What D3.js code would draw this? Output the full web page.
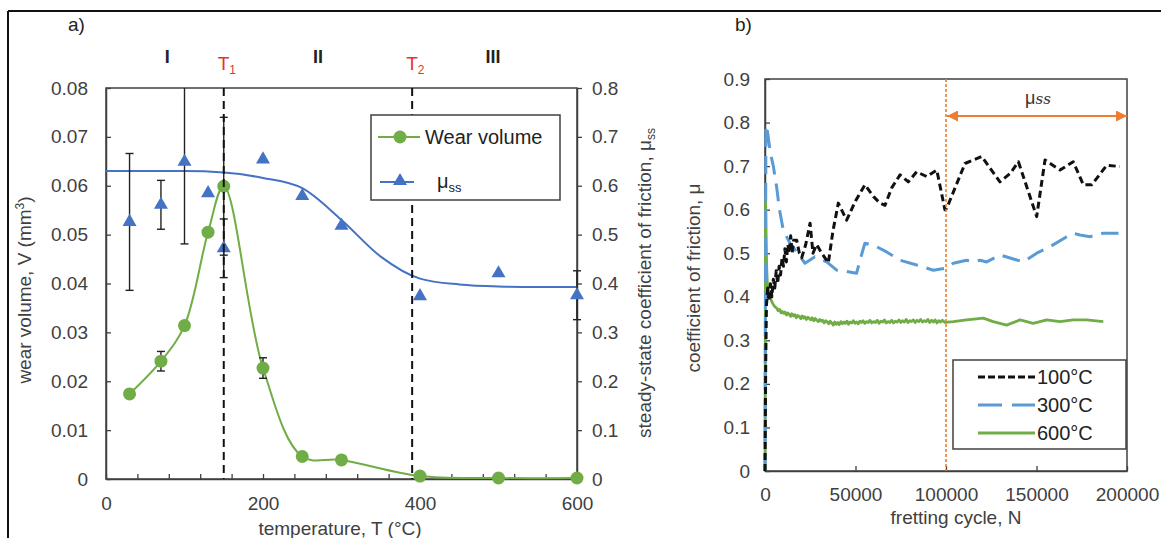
<!DOCTYPE html>
<html>
<head>
<meta charset="utf-8">
<script src="https://cdn.jsdelivr.net/npm/d3@7"></script>
<style>
  body { margin: 0; background: #fff; }
  svg { display: block; font-family: "Liberation Sans", Arial, sans-serif; }
</style>
</head>
<body>
<svg id="chart" width="1161" height="538"></svg>
<script>
// ---- panel a data ----
const tempC = [30, 70, 100, 130, 150, 200, 250, 300, 400, 500, 600];
const wearVolume = [0.0174, 0.0241, 0.0314, 0.0505, 0.0599, 0.0227, 0.0046, 0.0039, 0.0006, 0.0002, 0.0002];
const wearErr = [0.0009, 0.002, 0, 0, 0.0141, 0.0021, 0, 0, 0, 0, 0];
const muSS = [0.526, 0.561, 0.649, 0.585, 0.472, 0.654, 0.579, 0.518, 0.374, 0.421, 0.376];
const muErr = [0.14, 0.05, 0.168, 0, 0.06, 0, 0, 0, 0, 0, 0.05];
const fitT = [0, 50, 100, 150, 200, 250, 300, 350, 400, 450, 500, 550, 600];
const fitMu = [0.63, 0.63, 0.63, 0.627, 0.616, 0.595, 0.53, 0.455, 0.41, 0.398, 0.394, 0.393, 0.393];
const transitions = [150, 390];
const regions = [{ t: 78, label: 'I' }, { t: 270, label: 'II' }, { t: 493, label: 'III' }];

// ---- panel b data: [fretting cycle, coefficient of friction] ----
const cof100 = [[0, 0], [400, 0.25], [800, 0.38], [1500, 0.42], [2200, 0.39], [3000, 0.43], [3800, 0.4], [4600, 0.44],
  [5400, 0.42], [6200, 0.46], [7000, 0.43], [7800, 0.47], [8600, 0.45], [9400, 0.49], [10200, 0.47], [11000, 0.51],
  [11800, 0.48], [12600, 0.52], [13400, 0.5], [14200, 0.54], [15000, 0.5], [15800, 0.53], [17500, 0.53], [19000, 0.5],
  [20300, 0.49], [22500, 0.52], [24900, 0.569], [26500, 0.5], [28500, 0.52], [31300, 0.5], [35000, 0.478],
  [37500, 0.55], [40500, 0.615], [45100, 0.576], [50000, 0.62], [55200, 0.657], [60000, 0.63], [63500, 0.615],
  [66300, 0.61], [70000, 0.65], [74600, 0.68], [79200, 0.664], [83800, 0.687], [89300, 0.676], [94900, 0.691],
  [99400, 0.6], [100400, 0.603], [105000, 0.65], [110500, 0.706], [119700, 0.722], [129800, 0.664], [135400, 0.683],
  [140000, 0.71], [150100, 0.584], [154700, 0.714], [163000, 0.691], [170300, 0.71], [175900, 0.657], [180500, 0.657],
  [188800, 0.702], [196100, 0.699]];
const cof300 = [[0, 0], [500, 0.79], [900, 0.794], [2000, 0.76], [3000, 0.73], [4600, 0.7], [6400, 0.653], [8000, 0.6],
  [10100, 0.553], [13800, 0.523], [17500, 0.503], [22100, 0.477], [27600, 0.492], [34100, 0.48], [39600, 0.461],
  [45100, 0.458], [50600, 0.454], [52500, 0.484], [55200, 0.523], [59800, 0.519], [67200, 0.503], [74600, 0.484],
  [83800, 0.473], [93000, 0.461], [99400, 0.465], [104000, 0.477], [111400, 0.484], [115000, 0.48], [118800, 0.484],
  [122500, 0.48], [129800, 0.496], [136300, 0.488], [142700, 0.48], [150100, 0.5], [157500, 0.515], [166700, 0.538],
  [170300, 0.546], [174000, 0.542], [179600, 0.538], [186900, 0.546], [195300, 0.546]];
const cof600 = [[0, 0], [300, 0.63], [600, 0.55], [900, 0.47], [1300, 0.43], [2000, 0.41], [2800, 0.4], [3600, 0.39],
  [4500, 0.383], [5500, 0.377], [6500, 0.374], [7200, 0.368], [8100, 0.371], [8900, 0.363], [9600, 0.366],
  [10400, 0.362], [11000, 0.365], [11900, 0.358], [12600, 0.363], [13300, 0.36], [14200, 0.355], [14800, 0.361],
  [15700, 0.356], [16500, 0.359], [17300, 0.352], [18000, 0.357], [18900, 0.355], [19800, 0.35], [20500, 0.356],
  [21400, 0.351], [22000, 0.354], [22900, 0.348], [23700, 0.353], [24500, 0.35], [25300, 0.347], [26000, 0.352],
  [27000, 0.345], [27700, 0.35], [28500, 0.347], [29400, 0.343], [30200, 0.348], [31000, 0.344], [31800, 0.346],
  [32700, 0.34], [33500, 0.345], [34300, 0.343], [35200, 0.338], [36000, 0.344], [36800, 0.34], [37700, 0.335],
  [38500, 0.342], [39300, 0.337], [40200, 0.341], [41000, 0.336], [41900, 0.343], [42700, 0.338], [43600, 0.342],
  [44400, 0.339], [45300, 0.344], [46100, 0.337], [47000, 0.342], [48000, 0.34], [48800, 0.345], [49700, 0.339],
  [50600, 0.342], [51500, 0.338], [52400, 0.344], [53300, 0.341], [54200, 0.345], [55200, 0.339], [56100, 0.343],
  [57100, 0.341], [58000, 0.346], [59000, 0.34], [60000, 0.343], [61000, 0.341], [62000, 0.346], [63000, 0.339],
  [64000, 0.344], [65000, 0.342], [66000, 0.347], [67000, 0.34], [68000, 0.343], [69000, 0.341], [70000, 0.346],
  [71000, 0.34], [72000, 0.344], [73000, 0.342], [74000, 0.347], [75000, 0.341], [76000, 0.345], [77000, 0.342],
  [78000, 0.348], [79000, 0.341], [80000, 0.345], [81000, 0.343], [82000, 0.347], [83000, 0.341], [84000, 0.346],
  [85000, 0.343], [86000, 0.348], [87000, 0.342], [88000, 0.345], [89000, 0.343], [90000, 0.348], [91000, 0.341],
  [92000, 0.346], [93000, 0.342], [94000, 0.347], [95000, 0.34], [96000, 0.345], [97000, 0.342], [98000, 0.346],
  [99400, 0.341], [104000, 0.343], [111400, 0.347], [120600, 0.351], [126100, 0.343], [133500, 0.335],
  [140900, 0.347], [148200, 0.339], [155600, 0.347], [163000, 0.343], [170300, 0.347], [177700, 0.347], [186900, 0.343]];
const ssStart = 100000;

const svg = d3.select('#chart');
const ink = '#404040';
const green = '#70ad47', blue = '#4472c4', lightBlue = '#5b9bd5', orange = '#ed7d31', red = '#e8312f';

// outer frame
svg.append('line').attr('x1', 8).attr('y1', 11).attr('x2', 1161).attr('y2', 11).attr('stroke', '#111').attr('stroke-width', 2);
svg.append('line').attr('x1', 8).attr('y1', 11).attr('x2', 8).attr('y2', 538).attr('stroke', '#111').attr('stroke-width', 2);

/* ================= panel a ================= */
const A = { left: 106, right: 577, top: 88, bottom: 479 };
const x = d3.scaleLinear().domain([0, 600]).range([A.left, A.right]);
const yW = d3.scaleLinear().domain([0, 0.08]).range([A.bottom, A.top]);
const yM = d3.scaleLinear().domain([0, 0.8]).range([A.bottom, A.top]);

const ga = svg.append('g');
ga.append('rect').attr('x', A.left).attr('y', A.top).attr('width', A.right - A.left).attr('height', A.bottom - A.top)
  .attr('fill', 'none').attr('stroke', ink).attr('stroke-width', 1.5);

const axA = (g) => {
  g.select('.domain').attr('stroke', ink).attr('stroke-width', 1.5);
  g.selectAll('.tick line').attr('stroke', ink).attr('stroke-width', 1.3);
  g.selectAll('.tick text').attr('fill', ink).style('font-size', '19px');
};

ga.append('g').attr('transform', `translate(0,${A.bottom})`)
  .call(d3.axisBottom(x).tickValues(d3.range(0, 601, 40)).tickSizeInner(-5).tickSizeOuter(0).tickPadding(18)
    .tickFormat(d => d % 200 === 0 ? d : ''))
  .call(axA);
ga.append('g').attr('transform', `translate(${A.left},0)`)
  .call(d3.axisLeft(yW).ticks(8).tickSizeInner(-5).tickSizeOuter(0).tickPadding(18)
    .tickFormat(d => d === 0 ? '0' : d3.format('.2f')(d)))
  .call(axA);
ga.append('g').attr('transform', `translate(${A.right},0)`)
  .call(d3.axisRight(yM).ticks(8).tickSizeInner(5).tickSizeOuter(0).tickPadding(10)
    .tickFormat(d => d === 0 ? '0' : d3.format('.1f')(d)))
  .call(axA);

// fitted friction curve
ga.append('path').datum(fitT.map((t, i) => [t, fitMu[i]]))
  .attr('fill', 'none').attr('stroke', blue).attr('stroke-width', 2)
  .attr('d', d3.line().x(d => x(d[0])).y(d => yM(d[1])).curve(d3.curveMonotoneX));

// wear volume smooth line
ga.append('path').datum(tempC.map((t, i) => [t, wearVolume[i]]))
  .attr('fill', 'none').attr('stroke', green).attr('stroke-width', 2)
  .attr('d', d3.line().x(d => x(d[0])).y(d => yW(d[1])).curve(d3.curveCatmullRom.alpha(0.5)));

// error bars
const errBar = (cx, lo, hi, capLo, capHi) => {
  const e = ga.append('g').attr('stroke', '#222').attr('stroke-width', 1.4);
  e.append('line').attr('x1', cx).attr('x2', cx).attr('y1', lo).attr('y2', hi);
  if (capLo) e.append('line').attr('x1', cx - 4).attr('x2', cx + 4).attr('y1', lo).attr('y2', lo);
  if (capHi) e.append('line').attr('x1', cx - 4).attr('x2', cx + 4).attr('y1', hi).attr('y2', hi);
};
tempC.forEach((t, i) => {
  if (muErr[i] > 0) {
    const hi = muSS[i] + muErr[i];
    errBar(x(t), yM(muSS[i] - muErr[i]), yM(Math.min(hi, 0.8)), true, hi <= 0.8);
  }
  if (wearErr[i] > 0) errBar(x(t), yW(wearVolume[i] - wearErr[i]), yW(wearVolume[i] + wearErr[i]), true, true);
});

// markers
const tri = d3.symbol(d3.symbolTriangle).size(85);
ga.selectAll('.mu').data(tempC).enter().append('path').attr('class', 'mu')
  .attr('d', tri).attr('fill', blue)
  .attr('transform', (t, i) => `translate(${x(t)},${yM(muSS[i])})`);
ga.selectAll('.wv').data(tempC).enter().append('circle').attr('class', 'wv')
  .attr('cx', t => x(t)).attr('cy', (t, i) => yW(wearVolume[i])).attr('r', 6.5).attr('fill', green);

// transition temperatures
ga.selectAll('.trans').data(transitions).enter().append('line').attr('class', 'trans')
  .attr('x1', t => x(t)).attr('x2', t => x(t)).attr('y1', A.top).attr('y2', A.bottom)
  .attr('stroke', '#111').attr('stroke-width', 2).attr('stroke-dasharray', '8,5');

transitions.forEach((t, i) => {
  const tx = ga.append('text').attr('x', x(t) - 6).attr('y', 70).attr('fill', red).style('font-size', '19px');
  tx.append('tspan').text('T');
  tx.append('tspan').attr('dy', 4).style('font-size', '12px').text(i + 1);
});
ga.selectAll('.region').data(regions).enter().append('text').attr('class', 'region')
  .attr('x', d => x(d.t)).attr('y', 63).attr('text-anchor', 'middle')
  .attr('fill', '#222').style('font-size', '18px').style('font-weight', 'bold').text(d => d.label);

// legend a
const lg = ga.append('g');
lg.append('rect').attr('x', 371).attr('y', 115).attr('width', 189).attr('height', 85)
  .attr('fill', '#fff').attr('stroke', ink).attr('stroke-width', 1.5);
lg.append('line').attr('x1', 378).attr('x2', 420).attr('y1', 137).attr('y2', 137).attr('stroke', green).attr('stroke-width', 2);
lg.append('circle').attr('cx', 400).attr('cy', 137).attr('r', 6.5).attr('fill', green);
lg.append('text').attr('x', 425).attr('y', 144).attr('fill', '#222').style('font-size', '20px').text('Wear volume');
lg.append('line').attr('x1', 380).attr('x2', 414).attr('y1', 182).attr('y2', 182).attr('stroke', blue).attr('stroke-width', 2);
lg.append('path').attr('d', tri).attr('fill', blue).attr('transform', 'translate(400,181)');
const lmu = lg.append('text').attr('x', 437).attr('y', 188).attr('fill', '#222').style('font-size', '20px');
lmu.append('tspan').text('μ');
lmu.append('tspan').attr('dy', 4).style('font-size', '13px').text('ss');

// titles a
svg.append('text').attr('x', 68).attr('y', 31).attr('fill', '#222').style('font-size', '19px').text('a)');
const tl = svg.append('text').attr('transform', 'translate(31,290) rotate(-90)').attr('text-anchor', 'middle')
  .attr('fill', ink).style('font-size', '19px');
tl.append('tspan').text('wear volume, V (mm');
tl.append('tspan').attr('dy', -7).style('font-size', '12px').text('3');
tl.append('tspan').attr('dy', 7).text(')');
svg.append('text').attr('x', 340).attr('y', 535).attr('text-anchor', 'middle').attr('fill', ink)
  .style('font-size', '19px').text('temperature, T (°C)');
const tr = svg.append('text').attr('transform', 'translate(651,283) rotate(-90)').attr('text-anchor', 'middle')
  .attr('fill', ink).style('font-size', '19px');
tr.append('tspan').text('steady-state coefficient of friction, μ');
tr.append('tspan').attr('dy', 4).style('font-size', '12px').text('ss');

/* ================= panel b ================= */
const B = { left: 765, right: 1127, top: 79, bottom: 471 };
const xb = d3.scaleLinear().domain([0, 200000]).range([B.left, B.right]);
const yb = d3.scaleLinear().domain([0, 0.9]).range([B.bottom, B.top]);
const gb = svg.append('g');

gb.append('rect').attr('x', B.left).attr('y', B.top).attr('width', B.right - B.left).attr('height', B.bottom - B.top)
  .attr('fill', 'none').attr('stroke', ink).attr('stroke-width', 1.5);
gb.append('g').attr('transform', `translate(0,${B.bottom})`)
  .call(d3.axisBottom(xb).tickValues(d3.range(0, 200001, 50000)).tickSizeInner(-5).tickSizeOuter(0).tickPadding(17)
    .tickFormat(d3.format('d')))
  .call(axA);
gb.append('g').attr('transform', `translate(${B.left},0)`)
  .call(d3.axisLeft(yb).ticks(9).tickSizeInner(-5).tickSizeOuter(0).tickPadding(15)
    .tickFormat(d => d === 0 ? '0' : d3.format('.1f')(d)))
  .call(axA);

const lineB = d3.line().x(d => xb(d[0])).y(d => yb(d[1]));
const series = [
  { data: cof600, color: green, dash: null, w: 2.8, label: '600°C', legDash: null },
  { data: cof300, color: lightBlue, dash: '18,9', w: 3, label: '300°C', legDash: '24,10' },
  { data: cof100, color: '#111', dash: '7,4', w: 3, label: '100°C', legDash: '7,3' }
];
series.forEach(s => {
  gb.append('path').datum(s.data).attr('fill', 'none').attr('stroke', s.color)
    .attr('stroke-width', s.w).attr('stroke-dasharray', s.dash).attr('stroke-linejoin', 'round').attr('d', lineB);
});

// steady-state marker
gb.append('line').attr('x1', xb(ssStart)).attr('x2', xb(ssStart)).attr('y1', B.top).attr('y2', B.bottom)
  .attr('stroke', orange).attr('stroke-width', 2).attr('stroke-dasharray', '3,2').attr('opacity', 0.8);
const defs = svg.append('defs');
['start', 'end'].forEach(k => {
  defs.append('marker').attr('id', 'arr-' + k).attr('viewBox', '0 0 10 10').attr('refX', k === 'end' ? 10 : 0).attr('refY', 5)
    .attr('markerWidth', 5).attr('markerHeight', 5).attr('markerUnits', 'strokeWidth').attr('orient', 'auto')
    .append('path').attr('d', k === 'end' ? 'M0,0L10,5L0,10Z' : 'M10,0L0,5L10,10Z').attr('fill', orange);
});
gb.append('line').attr('x1', xb(ssStart) + 1).attr('x2', B.right).attr('y1', 116).attr('y2', 116)
  .attr('stroke', orange).attr('stroke-width', 2.2)
  .attr('marker-start', 'url(#arr-start)').attr('marker-end', 'url(#arr-end)');
const ssl = gb.append('text').attr('x', 1038).attr('y', 104).attr('text-anchor', 'middle').attr('fill', '#333')
  .style('font-size', '18px');
ssl.append('tspan').text('μ');
ssl.append('tspan').style('font-family', '"DejaVu Serif", serif').style('font-style', 'italic').style('font-size', '15px').text('ss');

// legend b
const lb = gb.append('g');
lb.append('rect').attr('x', 953).attr('y', 360).attr('width', 173).attr('height', 89)
  .attr('fill', '#fff').attr('stroke', ink).attr('stroke-width', 1.5);
series.slice().reverse().forEach((s, i) => {
  const yy = 377 + i * 28;
  lb.append('line').attr('x1', 978).attr('x2', 1035).attr('y1', yy).attr('y2', yy)
    .attr('stroke', s.color).attr('stroke-width', s.w).attr('stroke-dasharray', s.legDash);
  lb.append('text').attr('x', 1037).attr('y', yy + 7).attr('fill', '#222').style('font-size', '20px').text(s.label);
});

// titles b
svg.append('text').attr('x', 735).attr('y', 31).attr('fill', '#222').style('font-size', '19px').text('b)');
svg.append('text').attr('x', 956).attr('y', 524).attr('text-anchor', 'middle').attr('fill', ink)
  .style('font-size', '19px').text('fretting cycle, N');
svg.append('text').attr('transform', 'translate(700,278) rotate(-90)').attr('text-anchor', 'middle')
  .attr('fill', ink).style('font-size', '19px').text('coefficient of friction, μ');
</script>
</body>
</html>
